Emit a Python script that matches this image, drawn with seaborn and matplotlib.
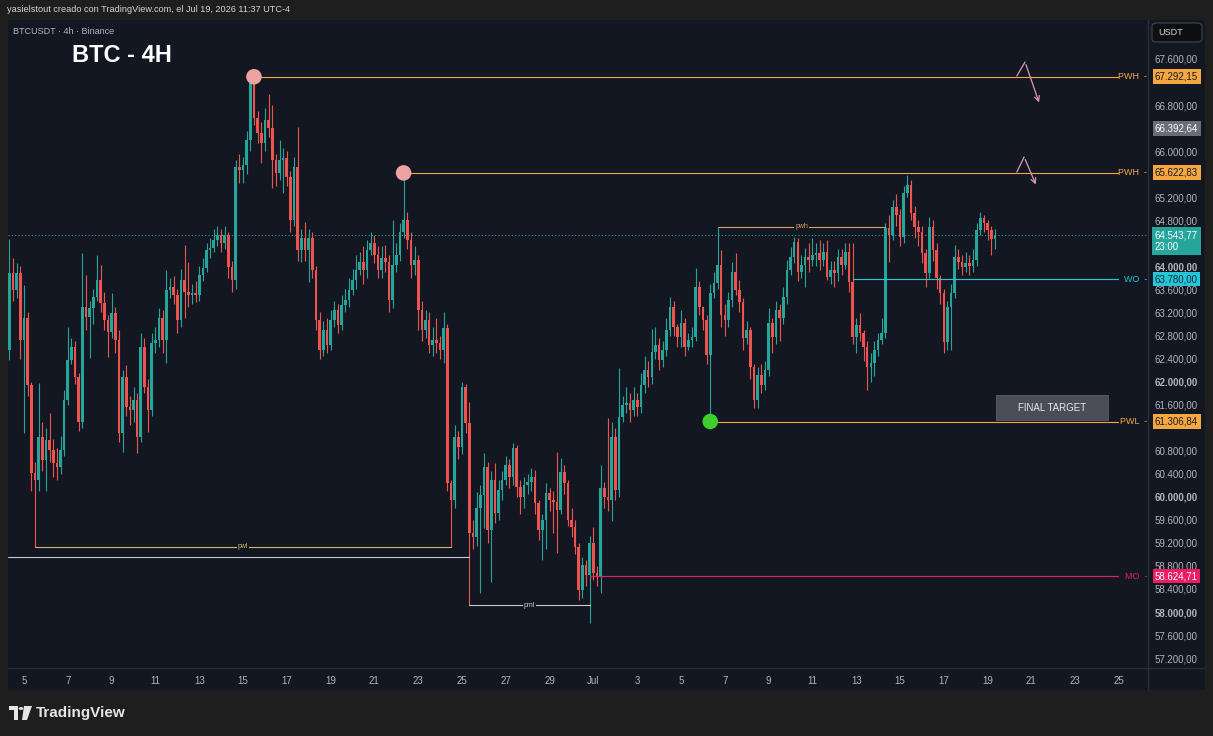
import numpy as np
import pandas as pd
import matplotlib
matplotlib.use("Agg")
import matplotlib.pyplot as plt
import matplotlib.dates as mdates
import matplotlib.transforms as mtransforms
from matplotlib.patches import Rectangle, FancyBboxPatch, Polygon, Circle
from matplotlib.lines import Line2D
import seaborn as sns

# ---- data: BTCUSDT 4h candles ----
first_candle = "2026-06-04 08:00"
first_open = 62550
closes = [
    63890, 63590, 63890, 62720, 63100, 61940, 60410, 60290, 61040, 60640,
    60990, 60810, 60590, 60520, 60810, 61680, 62370, 62600, 62080, 61300,
    63290, 63120, 63280, 63470, 63760, 63360, 63070, 62860, 63190, 62720,
    61110, 62080, 61560, 61510, 61680, 61040, 62600, 61910, 61510, 62670,
    62720, 63100, 62720, 63590, 63640, 63500, 63070, 63760, 63560, 63500,
    63540, 63500, 63850, 63970, 64280, 64320, 64460, 64540, 64400, 64540,
    63990, 63760, 65720, 65670, 65760, 66190, 67180, 66580, 66320, 66140,
    66540, 66400, 65850, 65620, 65850, 65880, 65550, 64800, 65720, 64280,
    64490, 64280, 64490, 63940, 63070, 62550, 62900, 62630, 63070, 63240,
    62980, 63330, 63420, 63590, 63760, 63940, 64080, 63940, 64280, 64400,
    64200, 63940, 64150, 64080, 63420, 64020, 64200, 64600, 64800, 64460,
    64020, 64110, 63240, 62900, 63070, 62630, 62720, 62670, 62550, 62930,
    60240, 59940, 61040, 60860, 61910, 61280, 59370, 59300, 59800, 60030,
    60520, 59420, 60290, 59720, 60120, 60290, 60550, 60340, 60850, 60170,
    60000, 60200, 60260, 60340, 59890, 59420, 59600, 60070, 59940, 59910,
    59770, 60430, 60240, 59600, 59480, 59130, 58380, 58810, 58640, 59200,
    58680, 58610, 60150, 59990, 59940, 61040, 60120, 61390, 61590, 61620,
    61510, 61680, 61560, 61940, 62200, 62080, 62510, 62630, 62370, 62550,
    62900, 63290, 62950, 62770, 63020, 62600, 62720, 62770, 63640, 63290,
    63070, 62460, 63540, 63710, 64020, 63150, 63070, 63420, 63900, 63590,
    63380, 62760, 62900, 62250, 61680, 62110, 61940, 62200, 63020, 62770,
    63240, 63100, 63470, 63940, 64160, 64420, 63900, 64020, 64160, 64110,
    64200, 64230, 64110, 64250, 63810, 63940, 63880, 64160, 64020, 64250,
    63730, 62770, 62980, 62840, 62600, 62250, 62320, 62550, 62720, 62840,
    64660, 64540, 65030, 64890, 64510, 65270, 65410, 64930, 64680, 64600,
    64230, 63880, 64680, 64280, 63800, 63540, 62690, 63290, 63540, 64160,
    64080, 63990, 64060, 64010, 64110, 64630, 64840, 64750, 64630, 64480,
    64544,
]
highs = [
    64470, 64140, 64050, 64000, 63670, 63200, 62000, 60600, 61970, 61300,
    61200, 61450, 61000, 60850, 61050, 61850, 62950, 62750, 62700, 62150,
    64230, 63850, 63400, 63600, 64200, 64020, 63550, 63150, 63540, 63300,
    62900, 62200, 62280, 61750, 61900, 61800, 62840, 62750, 62050, 62850,
    62950, 63270, 63250, 63940, 63800, 63840, 63600, 63950, 64370, 64080,
    63700, 63750, 64000, 64150, 64400, 64500, 64650, 64700, 64650, 64700,
    64600, 64100, 65850, 65950, 65900, 66350, 67250, 67292, 66700, 66500,
    66750, 67000, 66800, 65950, 66190, 66050, 66000, 65650, 65900, 66420,
    64650, 64770, 64650, 64600, 64000, 63200, 63050, 63100, 63250, 63400,
    63350, 63500, 63600, 63800, 63950, 64200, 64250, 64350, 64450, 64600,
    64550, 64350, 64350, 64370, 64200, 64800, 64400, 64750, 65623, 64950,
    64600, 64350, 64200, 63400, 63250, 63200, 62950, 63100, 62800, 63200,
    63000, 60300, 61250, 61150, 62000, 61950, 61650, 59600, 60090, 60200,
    60760, 60600, 60450, 60590, 60300, 60450, 60700, 60650, 60930, 60900,
    60300, 60350, 60400, 60500, 60460, 59950, 59700, 60240, 60150, 60100,
    60780, 60680, 60550, 60300, 59800, 59600, 59200, 58950, 58900, 59320,
    59470, 58800, 60550, 60250, 61360, 61300, 61200, 62230, 61750, 61900,
    61800, 61900, 61800, 62150, 62450, 62350, 62920, 62950, 62750, 62700,
    63100, 63470, 63400, 63000, 63250, 63100, 62850, 62950, 63970, 63750,
    63300, 63150, 63700, 63900, 64685, 64280, 63350, 63550, 64080, 64230,
    63760, 63450, 63050, 62950, 62300, 62250, 62300, 62350, 63270, 63100,
    63400, 63350, 63650, 64110, 64340, 64510, 64500, 64200, 64320, 64400,
    64490, 64400, 64450, 64400, 64450, 64100, 64100, 64300, 64300, 64400,
    64400, 64400, 63100, 63190, 62900, 62700, 62500, 62700, 62850, 63100,
    64750, 64900, 65150, 65250, 65000, 65400, 65590, 65500, 65050, 64800,
    64700, 64300, 64860, 64800, 64400, 63850, 63600, 63400, 63700, 64370,
    64300, 64200, 64250, 64200, 64300, 64750, 64950, 64900, 64800, 64700,
    64650,
]
lows = [
    62370, 63400, 63450, 62400, 61110, 61750, 60100, 59130, 60100, 60450,
    60100, 60600, 60350, 60300, 60400, 60700, 61600, 62300, 61950, 61150,
    61200, 62900, 62410, 63000, 63400, 63200, 62900, 62430, 62750, 62500,
    60950, 60780, 61400, 61250, 61300, 60760, 60950, 61800, 61130, 61400,
    62500, 62600, 62500, 62330, 63450, 63350, 62840, 62950, 63100, 63300,
    63350, 63380, 63400, 63750, 63900, 64150, 64250, 64350, 64250, 64300,
    63800, 63550, 63600, 65450, 65450, 65600, 66000, 66450, 66150, 65800,
    66000, 66250, 65360, 65400, 65500, 65270, 65400, 64600, 64700, 64100,
    64080, 64100, 63730, 63800, 62900, 62400, 62450, 62500, 62550, 62950,
    62850, 62900, 63200, 63300, 63500, 63600, 63850, 63700, 63800, 64200,
    64050, 63800, 63800, 63900, 63200, 63280, 63900, 64100, 64500, 64300,
    63800, 63850, 62900, 62700, 62750, 62500, 62450, 62500, 62400, 62320,
    60100, 59130, 59800, 60650, 60750, 61100, 58120, 59100, 59150, 58330,
    59450, 59200, 58520, 59550, 59600, 59950, 60200, 60150, 60200, 60000,
    59700, 59800, 60050, 60100, 59700, 59250, 58900, 59100, 59750, 59370,
    59020, 59700, 60050, 59500, 59300, 59000, 58200, 58250, 58450, 57810,
    58550, 58450, 58330, 59800, 59750, 59580, 59950, 60000, 61300, 61450,
    61300, 61400, 61400, 61450, 61800, 61900, 61950, 62400, 62200, 62250,
    62450, 62800, 62800, 62600, 62600, 62450, 62550, 62600, 62700, 63150,
    62900, 62300, 61307, 63450, 63600, 62950, 62800, 62950, 63300, 63500,
    63200, 62550, 62650, 62050, 61540, 61550, 61800, 61850, 62100, 62490,
    62650, 62700, 63000, 63350, 63850, 64050, 63750, 63800, 63640, 63900,
    64000, 64000, 63940, 64000, 63760, 63700, 63640, 63750, 63850, 63950,
    63550, 62650, 62490, 62700, 62350, 61850, 62000, 62100, 62450, 62650,
    62750, 64080, 64450, 64700, 64350, 64400, 65200, 64800, 64500, 64350,
    64050, 63650, 63800, 64100, 63600, 63350, 62500, 62550, 62550, 63450,
    63950, 63850, 63900, 63850, 63900, 64000, 64550, 64600, 64450, 64200,
    64300,
]

# key levels drawn to the right edge: label, price, candle where it starts
level_labels = ["PWH", "PWH", "PWL", "WO", "MO"]
level_prices = [67292.15, 65622.83, 61306.84, 63780.00, 58624.71]
level_from = [67, 108, 192, 231, 159]

# short marks (previous week high / low, previous month low)
mark_labels = ["pwh", "pwl", "pml"]
mark_prices = [64685, 59130, 58120]
mark_from = [194, 7, 126]
mark_to = [240, 121, 159]

grey_line_price = 58955
grey_line_to = 126

sweep_idx = [67, 108]
sweep_prices = [67292.15, 65622.83]
target_idx = [192]
target_prices = [61306.84]

last_price = 64543.77
marker_price = 66392.64

arrow1_t = ["2026-07-20 08:00", "2026-07-20 17:00", "2026-07-21 09:20"]
arrow1_p = [67305, 67548, 66801]
arrow2_t = ["2026-07-20 08:00", "2026-07-20 16:00", "2026-07-21 06:00"]
arrow2_p = [65638, 65899, 65378]

target_box_t = ["2026-07-19 09:10", "2026-07-24 12:00"]
target_box_p = [61333, 61767]

tick_labels = ["5", "7", "9", "11", "13", "15", "17", "19", "21", "23", "25", "27", "29",
               "Jul", "3", "5", "7", "9", "11", "13", "15", "17", "19", "21", "23", "25"]
# axis prices covered by the price tags
hidden_ticks = [67200, 66400, 65600, 64400, 61200]

# ---- style ----
BG = "#131722"
OUT = "#1e1e1e"
UP = "#26a69a"
DOWN = "#ef5350"
ORANGE = "#f5a742"
TXT = "#b2b5be"

sns.set_theme(style="dark", rc={"axes.facecolor": BG, "figure.facecolor": OUT})
plt.rcParams["font.family"] = ["Liberation Sans", "DejaVu Sans"]

W, H = 1213, 736


def fx(px):
    return px / W


def fy(py):
    return 1 - py / H


def eu(v):
    s = f"{v:,.2f}"
    return s.replace(",", " ").replace(".", ",").replace(" ", ".")


times = pd.date_range(first_candle, periods=len(closes), freq="4h")
x = mdates.date2num(times)
c = np.array(closes, dtype=float)
o = np.r_[first_open, c[:-1]]  # each 4h candle opens at the previous close
h = np.array(highs, dtype=float)
l = np.array(lows, dtype=float)
colors = np.where(c >= o, UP, DOWN)

fig = plt.figure(figsize=(W / 100, H / 100), dpi=100)
fig.patches.append(Rectangle((fx(8), fy(690)), fx(1197), 670 / H, transform=fig.transFigure,
                             fc=BG, ec="none", zorder=-10))
ax = fig.add_axes([fx(8), fy(668), fx(1140), 648 / H])
ax.set_facecolor(BG)

xlim = mdates.date2num(pd.to_datetime(["2026-06-04 06:28", "2026-07-26 07:45"]))
ax.set_xlim(*xlim)
ax.set_ylim(57028, 68277)
x_end = xlim[0] + 0.9737 * (xlim[1] - xlim[0])

# candles
ax.vlines(x, l, h, colors=colors, lw=0.8, zorder=2)
ax.bar(x, np.maximum(np.abs(c - o), 15), bottom=np.minimum(o, c), width=0.12,
       color=colors, linewidth=0, zorder=2)

# current price dotted line
ax.axhline(last_price, color=UP, lw=0.8, ls=(0, (1, 2)), zorder=1)

blend = mtransforms.blended_transform_factory(ax.transAxes, ax.transData)

# key levels
level_colors = [ORANGE, ORANGE, ORANGE, "#26c6da", "#e91e63"]
tag_text = ["#1a1a1a", "#1a1a1a", "#1a1a1a", "#0d2b33", "white"]
for lab, p, i0, col, tc in zip(level_labels, level_prices, level_from, level_colors, tag_text):
    ax.plot([x[i0], x_end], [p, p], color=col, lw=0.8, zorder=3)
    ax.text(0.9991, p, lab + "  -", transform=blend, ha="right", va="center",
            fontsize=6.5, color=col, zorder=6, clip_on=False)
    ax.text(1.0061, p, eu(p), transform=blend, ha="left", va="center", fontsize=7,
            color=tc, zorder=7, clip_on=False,
            bbox=dict(boxstyle="square,pad=0.25", fc=col, ec="none"))

# short marks
mark_colors = ["#d9a05b", "#d4b26a", "#c8ccd4"]
for lab, p, i0, i1, col in zip(mark_labels, mark_prices, mark_from, mark_to, mark_colors):
    ax.plot([x[i0], x[i1]], [p, p], color=col, lw=0.8, zorder=3)
    ax.text((x[i0] + x[i1]) / 2, p, lab, ha="center", va="center", fontsize=5,
            color=col, zorder=4, bbox=dict(boxstyle="square,pad=0.15", fc=BG, ec="none"))
ax.plot([xlim[0], x[grey_line_to]], [grey_line_price, grey_line_price],
        color="#c8ccd4", lw=0.8, zorder=3)

# sweep / target dots
dots = pd.DataFrame({"x": np.r_[x[sweep_idx], x[target_idx]],
                     "p": sweep_prices + target_prices,
                     "kind": ["sweep", "sweep", "target"]})
sns.scatterplot(data=dots, x="x", y="p", hue="kind", palette={"sweep": "#eea3a3", "target": "#3ecf2b"},
                s=125, linewidth=0, legend=False, zorder=5, ax=ax)

# arrows
for tt, pp in [(arrow1_t, arrow1_p), (arrow2_t, arrow2_p)]:
    ax_t = mdates.date2num(pd.to_datetime(tt))
    ax.plot(ax_t[:2], pp[:2], color="#d99bb8", lw=0.9, zorder=4)
    ax.annotate("", xy=(ax_t[2], pp[2]), xytext=(ax_t[1], pp[1]),
                arrowprops=dict(arrowstyle="->", color="#d99bb8", lw=0.9, mutation_scale=9),
                zorder=4)

# final target box
bt = mdates.date2num(pd.to_datetime(target_box_t))
ax.add_patch(Rectangle((bt[0], target_box_p[0]), bt[1] - bt[0], target_box_p[1] - target_box_p[0],
                       fc="#4a4d57", ec="#5a5d68", lw=0.6, zorder=4))
ax.text((bt[0] + bt[1]) / 2, sum(target_box_p) / 2, "FINAL TARGET", ha="center", va="center",
        fontsize=7, color="#e8e8e8", zorder=5)

# price tags on the axis
ax.text(1.0061, marker_price, eu(marker_price), transform=blend, ha="left", va="center",
        fontsize=7, color="white", zorder=7, clip_on=False,
        bbox=dict(boxstyle="square,pad=0.25", fc="#6a6d78", ec="none"))
ax.annotate(eu(last_price) + "\n23:00", xy=(1.0061, last_price), xycoords=blend,
            xytext=(0, -4.5), textcoords="offset points", ha="left", va="center",
            fontsize=7, color="white", linespacing=1.25, zorder=7, annotation_clip=False,
            bbox=dict(boxstyle="square,pad=0.3", fc=UP, ec="none"))

# axes / ticks
for s in ax.spines.values():
    s.set_visible(False)
ax.grid(False)
ax.yaxis.tick_right()
yt = np.arange(57200, 67601, 400)
ax.set_yticks(yt)
ax.set_yticklabels(["" if v in hidden_ticks else eu(v) for v in yt])
for v, t in zip(yt, ax.get_yticklabels()):
    if v in (58000, 60000, 62000, 64000):
        t.set_fontweight("bold")
tick_dates = pd.date_range("2026-06-05", "2026-07-25", freq="2D")
ax.set_xticks(mdates.date2num(tick_dates))
ax.set_xticklabels(tick_labels)
ax.tick_params(axis="y", length=0, pad=5, labelsize=7, labelcolor=TXT)
ax.tick_params(axis="x", length=0, pad=5.5, labelsize=7, labelcolor=TXT)
ax.set_xlabel("")
ax.set_ylabel("")

# panel separators
fig.lines.append(Line2D([fx(1148), fx(1148)], [fy(20), fy(690)], transform=fig.transFigure,
                        color="#2a2e39", lw=1))
fig.lines.append(Line2D([fx(8), fx(1205)], [fy(668), fy(668)], transform=fig.transFigure,
                        color="#2a2e39", lw=1))

# header texts
fig.text(fx(7), fy(10), "yasielstout creado con TradingView.com, el Jul 19, 2026 11:37 UTC-4",
         fontsize=6.6, color="#d1d4dc", va="center", ha="left")
fig.text(fx(13), fy(31), "BTCUSDT · 4h · Binance", fontsize=6.5, color=TXT, va="center")
fig.text(fx(72), fy(55), "BTC - 4H", fontsize=17, fontweight="bold", color="white", va="center")

# USDT box
fig.patches.append(FancyBboxPatch((fx(1152), fy(42)), fx(50), 19 / H,
                                  boxstyle="round,pad=0,rounding_size=0.004",
                                  transform=fig.transFigure, fc="#0e0f13", ec="#434651", lw=0.8))
fig.text(fx(1158), fy(32.5), "USDT", fontsize=6.5, color="#d1d4dc", va="center")

# TradingView logo
fig.patches.append(Polygon([(fx(9), fy(706)), (fx(18), fy(706)), (fx(18), fy(720)),
                            (fx(14), fy(720)), (fx(14), fy(710)), (fx(9), fy(710))],
                           closed=True, transform=fig.transFigure, fc="#e6e6e6", ec="none"))
fig.patches.append(Circle((fx(21), fy(708.5)), 2.3 / W, transform=fig.transFigure,
                          fc="#e6e6e6", ec="none"))
fig.patches.append(Polygon([(fx(24), fy(706)), (fx(32), fy(706)), (fx(27), fy(720)),
                            (fx(22), fy(720))],
                           closed=True, transform=fig.transFigure, fc="#e6e6e6", ec="none"))
fig.text(fx(36), fy(713), "TradingView", fontsize=11, fontweight="bold", color="#e6e6e6",
         va="center", ha="left")

fig.savefig("out.png", dpi=100, facecolor=fig.get_facecolor())
